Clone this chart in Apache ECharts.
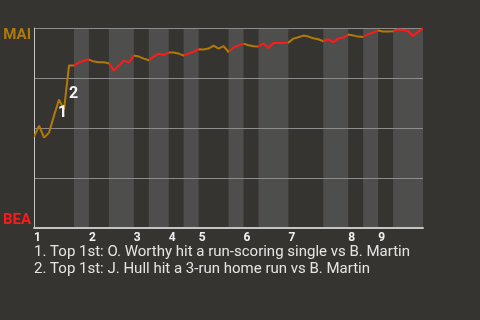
<!DOCTYPE html>
<html><head><meta charset="utf-8">
<script src="https://cdn.jsdelivr.net/npm/echarts@6/dist/echarts.min.js"></script>
<style>html,body{margin:0;padding:0;background:#363430;}#c{width:480px;height:320px;}</style>
</head><body><div id="c"></div>
<script>
// MAI win probability (%) after each play, play index 0..78
const winProb = [45.7, 51.2, 45.2, 47.7, 56.2, 64.2, 59.2, 81.2, 81.2,
  82.7, 83.7, 84.2, 83.2, 82.9, 82.9, 82.4, 78.7, 81.2, 83.7, 82.7,
  86.2, 85.7, 84.7, 83.9, 85.7, 87.2, 86.4, 87.7, 87.7, 87.2,
  86.2, 87.2, 88.2, 89.4, 89.2, 89.7, 91.2, 89.7, 90.9, 88.0,
  90.2, 91.2, 92.2, 91.4, 90.9, 90.8, 92.2, 90.0, 92.5, 92.5,
  92.5, 92.7, 94.7, 95.4, 96.2, 95.7, 94.9, 94.4, 93.4, 94.4,
  92.9, 94.9, 95.2, 96.7, 96.3, 95.7, 95.5, 96.9, 97.7, 98.8,
  98.3, 98.3, 98.4, 99.3, 99.0, 98.5, 96.0, 98.0, 100];
// play index where each half-inning starts (top 1, bot 1, top 2, ...)
const halfInningStarts = [0, 8, 11, 15, 20, 23, 27, 30, 33, 39, 42, 45, 51, 58, 63, 66, 69, 72];
const lastPlay = 78;
const inningLabels = ['1', '2', '3', '4', '5', '6', '7', '8', '9'];
const awayTeam = 'MAI';
const homeTeam = 'BEA';
const eventNotes = [
  '1. Top 1st: O. Worthy hit a run-scoring single vs B. Martin',
  '2. Top 1st: J. Hull hit a 3-run home run vs B. Martin'
];
const eventTags = ['1', '2'];
const eventTagX = [5.7, 7.9];
const eventTagY = [57.6, 67.1];

const GOLD = '#b07a08';
const RED = '#ff1a1a';
const BAND = '#4e4e4d';

const bounds = halfInningStarts.concat([lastPlay]);
const pieces = [];
const bands = [];
for (let k = 0; k < halfInningStarts.length; k++) {
  const a = bounds[k], b = bounds[k + 1];
  const isTop = k % 2 === 0;
  const piece = { gte: a, color: isTop ? GOLD : RED };
  if (k < halfInningStarts.length - 1) piece.lt = b; else piece.lte = b;
  pieces.push(piece);
  if (!isTop) bands.push([{ xAxis: a }, { xAxis: b }]);
}
const topStarts = halfInningStarts.filter((v, k) => k % 2 === 0);

const chart = echarts.init(document.getElementById('c'), null, { renderer: 'canvas' });
chart.setOption({
  backgroundColor: '#363430',
  animation: false,
  grid: { left: 32, right: 57, top: 28, bottom: 92 },
  xAxis: {
    type: 'value', min: 0, max: lastPlay, z: 1.5,
    splitLine: { show: false },
    axisTick: { show: false },
    axisLine: { show: true, lineStyle: { color: '#c4c4c4', width: 2 } },
    axisLabel: {
      customValues: topStarts,
      formatter: v => inningLabels[topStarts.indexOf(v)],
      align: 'left', margin: 4,
      color: '#f0f0f0', fontWeight: 'bold', fontSize: 12, fontFamily: 'Roboto'
    }
  },
  yAxis: [{
    type: 'value', min: 0, max: 100, interval: 25, z: 1.5,
    axisLine: { show: true, lineStyle: { color: '#c4c4c4', width: 1 } },
    axisTick: { show: false },
    splitLine: { show: true, lineStyle: { color: '#8c8c8c', width: 1 } },
    axisLabel: {
      customValues: [100], formatter: () => awayTeam,
      verticalAlign: 'top', margin: 3,
      color: GOLD, fontWeight: 'bold', fontSize: 15, fontFamily: 'Roboto'
    }
  }, {
    type: 'value', min: 0, max: 100, position: 'left', z: 1.5,
    axisLine: { show: false }, axisTick: { show: false }, splitLine: { show: false },
    axisLabel: {
      customValues: [0], formatter: () => homeTeam,
      verticalAlign: 'bottom', margin: 3,
      color: RED, fontWeight: 'bold', fontSize: 15, fontFamily: 'Roboto'
    }
  }],
  visualMap: {
    show: false, type: 'piecewise', dimension: 0, seriesIndex: 1, pieces: pieces
  },
  series: [{
    type: 'line', data: [], z: 1,
    markArea: { silent: true, itemStyle: { color: BAND }, data: bands }
  }, {
    type: 'line', z: 3,
    data: winProb.map((v, i) => [i, v]),
    symbol: 'none',
    lineStyle: { width: 2 },
    markPoint: {
      symbol: 'circle', symbolSize: 1,
      itemStyle: { color: 'rgba(0,0,0,0)' },
      label: {
        show: true, position: 'inside', formatter: p => p.name,
        color: '#f4f4f4', fontWeight: 'bold', fontSize: 16, fontFamily: 'Roboto'
      },
      data: eventTags.map((t, i) => ({ name: t, coord: [eventTagX[i], eventTagY[i]] }))
    }
  }],
  graphic: eventNotes.map((t, i) => ({
    type: 'text', left: 34, top: 245 + i * 17,
    style: { text: t, fill: '#e4e4e4', font: '15px Roboto' }
  }))
});
</script></body></html>
